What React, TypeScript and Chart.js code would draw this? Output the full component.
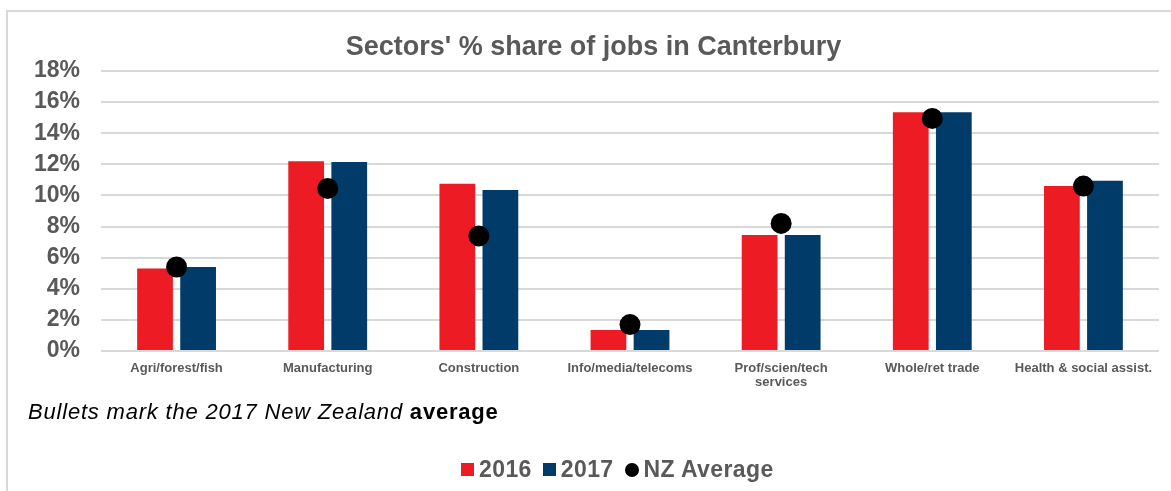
import React, { useEffect, useRef } from 'react';
import { Chart, registerables } from 'chart.js';

Chart.register(...registerables);

const categories: (string | string[])[] = [
  'Agri/forest/fish',
  'Manufacturing',
  'Construction',
  'Info/media/telecoms',
  ['Prof/scien/tech', 'services'],
  'Whole/ret trade',
  'Health & social assist.',
];
const series2016 = [5.3, 12.2, 10.75, 1.35, 7.45, 15.35, 10.6];
const series2017 = [5.4, 12.15, 10.35, 1.35, 7.45, 15.35, 10.95];
const nzAverage2017 = [5.4, 10.45, 7.4, 1.7, 8.2, 14.95, 10.6];
const yMin = 0;
const yMax = 18;
const yStep = 2;

const RED = '#ED1C24';
const BLUE = '#003B6A';
const GRAY_TEXT = '#595959';
const FONT = "'Liberation Sans', Arial, Helvetica, sans-serif";

export default function App() {
  const canvasRef = useRef<HTMLCanvasElement | null>(null);

  useEffect(() => {
    if (!canvasRef.current) return;
    const chart = new Chart(canvasRef.current, {
      type: 'bar',
      data: {
        labels: categories as any,
        datasets: [
          {
            type: 'line' as any,
            label: 'NZ Average',
            data: nzAverage2017,
            showLine: false,
            pointRadius: 10.5,
            pointHoverRadius: 10.5,
            pointBackgroundColor: '#000000',
            pointBorderWidth: 0,
            borderColor: '#000000',
            backgroundColor: '#000000',
            order: 0,
          } as any,
          {
            label: '2016',
            data: series2016,
            backgroundColor: RED,
            categoryPercentage: 0.57,
            barPercentage: 0.83,
            order: 1,
          },
          {
            label: '2017',
            data: series2017,
            backgroundColor: BLUE,
            categoryPercentage: 0.57,
            barPercentage: 0.83,
            order: 1,
          },
        ],
      },
      options: {
        responsive: false,
        animation: false,
        layout: { padding: { left: 28, right: 12, top: 0, bottom: 80 } },
        plugins: {
          legend: { display: false },
          tooltip: { enabled: false },
          title: {
            display: true,
            text: "Sectors' % share of jobs in Canterbury",
            color: GRAY_TEXT,
            font: { family: FONT, size: 27, weight: 'bold', lineHeight: 1.2 },
            padding: { top: 31, bottom: 7.6 },
          },
        },
        scales: {
          x: {
            grid: { display: false, drawTicks: false },
            border: { display: false },
            ticks: {
              color: GRAY_TEXT,
              padding: 10,
              maxRotation: 0,
              autoSkip: false,
              font: { family: FONT, size: 13, weight: 'bold', lineHeight: 1.1 },
            },
            afterFit: (s: any) => {
              s.height = 60;
            },
          },
          y: {
            min: yMin,
            max: yMax,
            grid: { color: '#d9d9d9', lineWidth: 2, drawTicks: false },
            border: { display: false },
            ticks: {
              stepSize: yStep,
              color: GRAY_TEXT,
              padding: 21,
              font: { family: FONT, size: 23, weight: 'bold' },
              callback: (v: any) => `${v}%`,
            },
            afterFit: (s: any) => {
              s.width = 73;
            },
          },
        },
      },
    });
    return () => chart.destroy();
  }, []);

  const legendText: React.CSSProperties = {
    fontFamily: FONT,
    fontWeight: 'bold',
    fontSize: 23,
    color: GRAY_TEXT,
    lineHeight: '23px',
    letterSpacing: '0.4px',
  };

  return (
    <div
      style={{
        position: 'absolute',
        left: 0,
        top: 0,
        width: 1171,
        height: 491,
        overflow: 'hidden',
        background: '#ffffff',
      }}
    >
      <div
        style={{
          position: 'absolute',
          left: 6,
          top: 10,
          right: -4,
          bottom: -4,
          borderTop: '2px solid #d9d9d9',
          borderLeft: '2px solid #d9d9d9',
        }}
      />
      <canvas
        ref={canvasRef}
        width={1171}
        height={491}
        style={{ position: 'absolute', left: 0, top: 0, width: 1171, height: 491 }}
      />
      <div
        style={{
          position: 'absolute',
          left: 28,
          top: 400.5,
          fontFamily: FONT,
          fontSize: 22,
          lineHeight: '22px',
          letterSpacing: '0.8px',
          color: '#000000',
          whiteSpace: 'nowrap',
        }}
      >
        <i>Bullets mark the 2017 New Zealand</i> <b>average</b>
      </div>
      <div
        style={{
          position: 'absolute',
          left: 461,
          top: 458,
          height: 23,
          display: 'flex',
          alignItems: 'center',
          whiteSpace: 'nowrap',
        }}
      >
        <span style={{ width: 13, height: 13, background: RED, display: 'inline-block', marginRight: 5 }} />
        <span style={legendText}>2016</span>
        <span
          style={{ width: 13, height: 13, background: BLUE, display: 'inline-block', marginLeft: 11, marginRight: 5 }}
        />
        <span style={legendText}>2017</span>
        <span
          style={{
            width: 14,
            height: 14,
            background: '#000000',
            borderRadius: '50%',
            display: 'inline-block',
            marginLeft: 11,
            marginRight: 5,
          }}
        />
        <span style={legendText}>NZ Average</span>
      </div>
    </div>
  );
}
